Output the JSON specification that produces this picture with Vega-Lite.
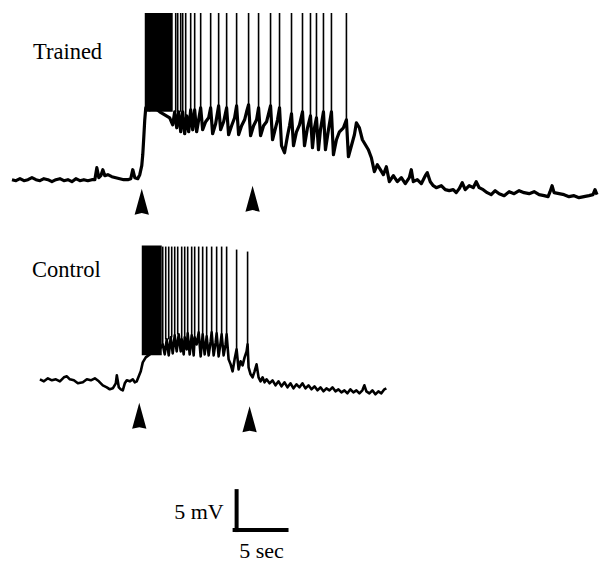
{
  "$schema": "https://vega.github.io/schema/vega-lite/v6.json",
  "width": 599,
  "height": 562,
  "autosize": {"type": "fit", "contains": "padding"},
  "padding": 0,
  "background": "white",
  "config": {"view": {"stroke": null}},
  "datasets": {
    "trace": [
      {"trace":"Trained","t":1.2,"v":-22.5},{"trace":"Trained","t":1.6,"v":-22.625},{"trace":"Trained","t":2.0,"v":-22.375},{"trace":"Trained","t":2.4,"v":-22.625},{"trace":"Trained","t":2.8,"v":-22.5},{"trace":"Trained","t":3.2,"v":-22.25},{"trace":"Trained","t":3.6,"v":-22.5},{"trace":"Trained","t":4.0,"v":-22.625},{"trace":"Trained","t":4.4,"v":-22.375},{"trace":"Trained","t":4.8,"v":-22.5},{"trace":"Trained","t":5.2,"v":-22.75},{"trace":"Trained","t":5.6,"v":-22.5},{"trace":"Trained","t":6.0,"v":-22.375},{"trace":"Trained","t":6.4,"v":-22.625},{"trace":"Trained","t":6.8,"v":-22.5},{"trace":"Trained","t":7.2,"v":-22.75},{"trace":"Trained","t":7.6,"v":-22.375},{"trace":"Trained","t":8.0,"v":-22.625},{"trace":"Trained","t":8.4,"v":-22.5},{"trace":"Trained","t":8.8,"v":-22.625},{"trace":"Trained","t":9.2,"v":-22.5},{"trace":"Trained","t":9.5,"v":-22.5},{"trace":"Trained","t":9.7,"v":-21},{"trace":"Trained","t":9.9,"v":-22.25},{"trace":"Trained","t":10.1,"v":-22},{"trace":"Trained","t":10.3,"v":-21.25},{"trace":"Trained","t":10.5,"v":-22},{"trace":"Trained","t":10.8,"v":-21.875},{"trace":"Trained","t":11.2,"v":-22.125},{"trace":"Trained","t":11.6,"v":-22.25},{"trace":"Trained","t":12.0,"v":-22.375},{"trace":"Trained","t":12.4,"v":-22.5},{"trace":"Trained","t":12.8,"v":-22.5},{"trace":"Trained","t":13.1,"v":-22.375},{"trace":"Trained","t":13.3,"v":-21.25},{"trace":"Trained","t":13.5,"v":-22.25},{"trace":"Trained","t":13.8,"v":-22.375},{"trace":"Trained","t":14.0,"v":-21.875},{"trace":"Trained","t":14.2,"v":-20.75},{"trace":"Trained","t":14.3,"v":-19.375},{"trace":"Trained","t":14.4,"v":-17.25},{"trace":"Trained","t":14.5,"v":-15},{"trace":"Trained","t":14.6,"v":-13.5},{"trace":"Trained","t":15.0,"v":-13.75},{"trace":"Trained","t":15.5,"v":-13.5},{"trace":"Trained","t":16.0,"v":-14},{"trace":"Trained","t":16.5,"v":-14.375},{"trace":"Trained","t":17.0,"v":-14.75},{"trace":"Trained","t":17.3,"v":-15.625},{"trace":"Trained","t":17.5,"v":-14},{"trace":"Trained","t":17.7,"v":-16},{"trace":"Trained","t":17.9,"v":-14},{"trace":"Trained","t":18.1,"v":-16.5},{"trace":"Trained","t":18.3,"v":-14},{"trace":"Trained","t":18.5,"v":-16.75},{"trace":"Trained","t":18.7,"v":-14.5},{"trace":"Trained","t":18.9,"v":-16.5},{"trace":"Trained","t":19.1,"v":-13.75},{"trace":"Trained","t":19.3,"v":-16.25},{"trace":"Trained","t":19.5,"v":-13.75},{"trace":"Trained","t":19.7,"v":-16.5},{"trace":"Trained","t":19.9,"v":-15},{"trace":"Trained","t":20.1,"v":-13.5},{"trace":"Trained","t":20.3,"v":-16.25},{"trace":"Trained","t":20.6,"v":-15.25},{"trace":"Trained","t":20.9,"v":-14.75},{"trace":"Trained","t":21.1,"v":-13.5},{"trace":"Trained","t":21.3,"v":-16.75},{"trace":"Trained","t":21.6,"v":-15.5},{"trace":"Trained","t":21.9,"v":-13.25},{"trace":"Trained","t":22.1,"v":-16.25},{"trace":"Trained","t":22.4,"v":-15.25},{"trace":"Trained","t":22.7,"v":-13.5},{"trace":"Trained","t":22.9,"v":-16.875},{"trace":"Trained","t":23.2,"v":-15.75},{"trace":"Trained","t":23.5,"v":-14.75},{"trace":"Trained","t":23.7,"v":-13.25},{"trace":"Trained","t":23.9,"v":-16.875},{"trace":"Trained","t":24.2,"v":-15.75},{"trace":"Trained","t":24.5,"v":-15},{"trace":"Trained","t":24.7,"v":-14},{"trace":"Trained","t":24.9,"v":-13.125},{"trace":"Trained","t":25.1,"v":-17},{"trace":"Trained","t":25.4,"v":-15.75},{"trace":"Trained","t":25.7,"v":-15},{"trace":"Trained","t":25.9,"v":-13.5},{"trace":"Trained","t":26.1,"v":-17},{"trace":"Trained","t":26.4,"v":-15.75},{"trace":"Trained","t":26.7,"v":-15.25},{"trace":"Trained","t":27.1,"v":-13.25},{"trace":"Trained","t":27.3,"v":-17.5},{"trace":"Trained","t":27.6,"v":-16},{"trace":"Trained","t":27.8,"v":-15},{"trace":"Trained","t":28.0,"v":-13.5},{"trace":"Trained","t":28.2,"v":-18.25},{"trace":"Trained","t":28.5,"v":-19.125},{"trace":"Trained","t":28.8,"v":-17},{"trace":"Trained","t":29.0,"v":-15.75},{"trace":"Trained","t":29.2,"v":-14.25},{"trace":"Trained","t":29.4,"v":-18.25},{"trace":"Trained","t":29.7,"v":-16.5},{"trace":"Trained","t":30.0,"v":-15.625},{"trace":"Trained","t":30.3,"v":-14},{"trace":"Trained","t":30.5,"v":-18.25},{"trace":"Trained","t":30.8,"v":-16},{"trace":"Trained","t":31.1,"v":-14.5},{"trace":"Trained","t":31.3,"v":-18.5},{"trace":"Trained","t":31.5,"v":-16},{"trace":"Trained","t":31.7,"v":-14.75},{"trace":"Trained","t":31.9,"v":-18.75},{"trace":"Trained","t":32.1,"v":-16.25},{"trace":"Trained","t":32.4,"v":-14},{"trace":"Trained","t":32.6,"v":-18.75},{"trace":"Trained","t":32.9,"v":-16.25},{"trace":"Trained","t":33.2,"v":-14},{"trace":"Trained","t":33.4,"v":-19.375},{"trace":"Trained","t":33.7,"v":-17.5},{"trace":"Trained","t":34.0,"v":-16.5},{"trace":"Trained","t":34.4,"v":-16},{"trace":"Trained","t":34.7,"v":-15},{"trace":"Trained","t":34.9,"v":-19.625},{"trace":"Trained","t":35.2,"v":-18.25},{"trace":"Trained","t":35.5,"v":-16.875},{"trace":"Trained","t":35.7,"v":-15.375},{"trace":"Trained","t":36.0,"v":-16},{"trace":"Trained","t":36.3,"v":-17.5},{"trace":"Trained","t":36.6,"v":-18.125},{"trace":"Trained","t":36.9,"v":-18.75},{"trace":"Trained","t":37.2,"v":-19.75},{"trace":"Trained","t":37.5,"v":-21.5},{"trace":"Trained","t":37.8,"v":-20.625},{"trace":"Trained","t":38.1,"v":-21.25},{"trace":"Trained","t":38.4,"v":-21.875},{"trace":"Trained","t":38.7,"v":-20.875},{"trace":"Trained","t":39.0,"v":-22.75},{"trace":"Trained","t":39.4,"v":-22},{"trace":"Trained","t":39.8,"v":-22.75},{"trace":"Trained","t":40.2,"v":-22.25},{"trace":"Trained","t":40.6,"v":-23},{"trace":"Trained","t":41.0,"v":-22.25},{"trace":"Trained","t":41.2,"v":-21.25},{"trace":"Trained","t":41.4,"v":-22.75},{"trace":"Trained","t":41.8,"v":-22.5},{"trace":"Trained","t":42.2,"v":-23},{"trace":"Trained","t":42.6,"v":-22},{"trace":"Trained","t":42.8,"v":-21.625},{"trace":"Trained","t":43.1,"v":-22.75},{"trace":"Trained","t":43.4,"v":-23.25},{"trace":"Trained","t":43.7,"v":-23.5},{"trace":"Trained","t":44.2,"v":-23.25},{"trace":"Trained","t":44.6,"v":-23.75},{"trace":"Trained","t":45.0,"v":-23.875},{"trace":"Trained","t":45.4,"v":-23.75},{"trace":"Trained","t":45.7,"v":-24.125},{"trace":"Trained","t":46.0,"v":-23.625},{"trace":"Trained","t":46.3,"v":-22.875},{"trace":"Trained","t":46.6,"v":-23.75},{"trace":"Trained","t":47.0,"v":-23.25},{"trace":"Trained","t":47.4,"v":-23.5},{"trace":"Trained","t":47.7,"v":-22.75},{"trace":"Trained","t":48.0,"v":-23.5},{"trace":"Trained","t":48.4,"v":-23.75},{"trace":"Trained","t":48.8,"v":-24.125},{"trace":"Trained","t":49.2,"v":-24.375},{"trace":"Trained","t":49.6,"v":-23.875},{"trace":"Trained","t":50.0,"v":-24.25},{"trace":"Trained","t":50.5,"v":-24.5},{"trace":"Trained","t":51.0,"v":-24},{"trace":"Trained","t":51.5,"v":-24.25},{"trace":"Trained","t":52.0,"v":-23.875},{"trace":"Trained","t":52.5,"v":-24.125},{"trace":"Trained","t":53.0,"v":-24.25},{"trace":"Trained","t":53.5,"v":-24},{"trace":"Trained","t":54.0,"v":-24.375},{"trace":"Trained","t":54.5,"v":-24.5},{"trace":"Trained","t":54.9,"v":-24.625},{"trace":"Trained","t":55.1,"v":-24},{"trace":"Trained","t":55.3,"v":-23.25},{"trace":"Trained","t":55.5,"v":-24.125},{"trace":"Trained","t":56.0,"v":-24.25},{"trace":"Trained","t":56.5,"v":-24.375},{"trace":"Trained","t":57.0,"v":-24.625},{"trace":"Trained","t":57.5,"v":-24.5},{"trace":"Trained","t":58.0,"v":-24.75},{"trace":"Trained","t":58.5,"v":-24.625},{"trace":"Trained","t":59.0,"v":-24.5},{"trace":"Trained","t":59.4,"v":-24.375},{"trace":"Trained","t":59.6,"v":-23.75},{"trace":"Trained","t":59.8,"v":-24.375},
      {"trace":"Control","t":4.0,"v":-47.5},{"trace":"Control","t":4.4,"v":-47.75},{"trace":"Control","t":4.8,"v":-47.375},{"trace":"Control","t":5.2,"v":-47.625},{"trace":"Control","t":5.6,"v":-47.5},{"trace":"Control","t":6.0,"v":-47.75},{"trace":"Control","t":6.4,"v":-47.25},{"trace":"Control","t":6.7,"v":-47.125},{"trace":"Control","t":7.0,"v":-47.5},{"trace":"Control","t":7.4,"v":-47.625},{"trace":"Control","t":7.8,"v":-48},{"trace":"Control","t":8.3,"v":-47.875},{"trace":"Control","t":8.7,"v":-47.5},{"trace":"Control","t":9.1,"v":-47.625},{"trace":"Control","t":9.5,"v":-47.375},{"trace":"Control","t":9.9,"v":-47.75},{"trace":"Control","t":10.3,"v":-48.25},{"trace":"Control","t":10.7,"v":-48.5},{"trace":"Control","t":11.0,"v":-48.75},{"trace":"Control","t":11.3,"v":-48.625},{"trace":"Control","t":11.6,"v":-48},{"trace":"Control","t":11.7,"v":-47},{"trace":"Control","t":11.9,"v":-48.5},{"trace":"Control","t":12.1,"v":-48.75},{"trace":"Control","t":12.3,"v":-48.875},{"trace":"Control","t":12.5,"v":-48},{"trace":"Control","t":12.7,"v":-47.625},{"trace":"Control","t":13.0,"v":-47.75},{"trace":"Control","t":13.3,"v":-47.5},{"trace":"Control","t":13.5,"v":-47.875},{"trace":"Control","t":13.7,"v":-47.75},{"trace":"Control","t":13.9,"v":-47.125},{"trace":"Control","t":14.1,"v":-46.5},{"trace":"Control","t":14.3,"v":-45.375},{"trace":"Control","t":14.6,"v":-44.75},{"trace":"Control","t":15.0,"v":-44.375},{"trace":"Control","t":15.5,"v":-44},{"trace":"Control","t":16.0,"v":-43.75},{"trace":"Control","t":16.3,"v":-43.125},{"trace":"Control","t":16.5,"v":-44.375},{"trace":"Control","t":16.7,"v":-42.5},{"trace":"Control","t":16.9,"v":-44.5},{"trace":"Control","t":17.1,"v":-42.25},{"trace":"Control","t":17.3,"v":-44.25},{"trace":"Control","t":17.5,"v":-42},{"trace":"Control","t":17.7,"v":-44},{"trace":"Control","t":17.9,"v":-41.875},{"trace":"Control","t":18.1,"v":-44},{"trace":"Control","t":18.2,"v":-42.5},{"trace":"Control","t":18.4,"v":-44.375},{"trace":"Control","t":18.5,"v":-42.25},{"trace":"Control","t":18.7,"v":-43.75},{"trace":"Control","t":18.8,"v":-41.75},{"trace":"Control","t":19.0,"v":-44.375},{"trace":"Control","t":19.2,"v":-42},{"trace":"Control","t":19.4,"v":-44.5},{"trace":"Control","t":19.5,"v":-42.25},{"trace":"Control","t":19.7,"v":-43.125},{"trace":"Control","t":19.9,"v":-41.625},{"trace":"Control","t":20.1,"v":-44.625},{"trace":"Control","t":20.3,"v":-41.875},{"trace":"Control","t":20.5,"v":-44.375},{"trace":"Control","t":20.7,"v":-42.125},{"trace":"Control","t":20.9,"v":-44.5},{"trace":"Control","t":21.1,"v":-42.75},{"trace":"Control","t":21.2,"v":-41.625},{"trace":"Control","t":21.4,"v":-44.5},{"trace":"Control","t":21.6,"v":-42.875},{"trace":"Control","t":21.7,"v":-41.75},{"trace":"Control","t":21.9,"v":-44.625},{"trace":"Control","t":22.1,"v":-42.875},{"trace":"Control","t":22.2,"v":-41.875},{"trace":"Control","t":22.4,"v":-44.5},{"trace":"Control","t":22.6,"v":-43.125},{"trace":"Control","t":22.7,"v":-41.875},{"trace":"Control","t":22.9,"v":-45},{"trace":"Control","t":23.1,"v":-45.625},{"trace":"Control","t":23.3,"v":-46.5},{"trace":"Control","t":23.5,"v":-45},{"trace":"Control","t":23.7,"v":-43.75},{"trace":"Control","t":23.9,"v":-46.25},{"trace":"Control","t":24.1,"v":-45.25},{"trace":"Control","t":24.3,"v":-45.75},{"trace":"Control","t":24.5,"v":-44.75},{"trace":"Control","t":24.7,"v":-44},{"trace":"Control","t":24.8,"v":-43.125},{"trace":"Control","t":24.9,"v":-46},{"trace":"Control","t":25.1,"v":-46.875},{"trace":"Control","t":25.3,"v":-47.25},{"trace":"Control","t":25.5,"v":-46.5},{"trace":"Control","t":25.7,"v":-45.625},{"trace":"Control","t":25.9,"v":-47.25},{"trace":"Control","t":26.1,"v":-47.75},{"trace":"Control","t":26.3,"v":-47.25},{"trace":"Control","t":26.5,"v":-47.875},{"trace":"Control","t":26.7,"v":-47.5},{"trace":"Control","t":27.0,"v":-48},{"trace":"Control","t":27.3,"v":-47.625},{"trace":"Control","t":27.6,"v":-48.25},{"trace":"Control","t":27.9,"v":-47.75},{"trace":"Control","t":28.2,"v":-48.375},{"trace":"Control","t":28.5,"v":-47.875},{"trace":"Control","t":28.8,"v":-48.5},{"trace":"Control","t":29.1,"v":-48},{"trace":"Control","t":29.4,"v":-48.625},{"trace":"Control","t":29.7,"v":-48.125},{"trace":"Control","t":30.0,"v":-48.5},{"trace":"Control","t":30.3,"v":-48},{"trace":"Control","t":30.6,"v":-48.625},{"trace":"Control","t":30.9,"v":-48.25},{"trace":"Control","t":31.2,"v":-48.75},{"trace":"Control","t":31.5,"v":-48.375},{"trace":"Control","t":31.8,"v":-48.875},{"trace":"Control","t":32.1,"v":-48.5},{"trace":"Control","t":32.4,"v":-49},{"trace":"Control","t":32.7,"v":-48.625},{"trace":"Control","t":33.0,"v":-48.875},{"trace":"Control","t":33.3,"v":-48.5},{"trace":"Control","t":33.6,"v":-49},{"trace":"Control","t":33.9,"v":-48.75},{"trace":"Control","t":34.2,"v":-49.125},{"trace":"Control","t":34.5,"v":-48.875},{"trace":"Control","t":34.8,"v":-49.25},{"trace":"Control","t":35.1,"v":-48.75},{"trace":"Control","t":35.4,"v":-49.125},{"trace":"Control","t":35.7,"v":-48.875},{"trace":"Control","t":36.0,"v":-49.25},{"trace":"Control","t":36.3,"v":-48.875},{"trace":"Control","t":36.5,"v":-48.25},{"trace":"Control","t":36.7,"v":-49},{"trace":"Control","t":37.0,"v":-49.25},{"trace":"Control","t":37.3,"v":-48.875},{"trace":"Control","t":37.6,"v":-49.375},{"trace":"Control","t":37.9,"v":-49},{"trace":"Control","t":38.2,"v":-49.25},{"trace":"Control","t":38.5,"v":-48.75},{"trace":"Control","t":38.7,"v":-48.625}
    ],
    "spikes": [
      {"trace":"Trained","t":17.6,"base":-14,"peak":-1.625},{"trace":"Trained","t":17.8,"base":-14,"peak":-1.625},{"trace":"Trained","t":18.1,"base":-14,"peak":-1.625},{"trace":"Trained","t":18.3,"base":-14,"peak":-1.625},{"trace":"Trained","t":18.6,"base":-14.5,"peak":-1.625},{"trace":"Trained","t":19.1,"base":-13.75,"peak":-1.625},{"trace":"Trained","t":19.5,"base":-13.75,"peak":-1.625},{"trace":"Trained","t":20.1,"base":-13.5,"peak":-1.625},{"trace":"Trained","t":21.1,"base":-13.5,"peak":-1.625},{"trace":"Trained","t":21.9,"base":-13.25,"peak":-1.625},{"trace":"Trained","t":22.7,"base":-13.5,"peak":-1.625},{"trace":"Trained","t":23.7,"base":-13.25,"peak":-1.625},{"trace":"Trained","t":24.9,"base":-13.125,"peak":-1.625},{"trace":"Trained","t":25.9,"base":-13.5,"peak":-1.625},{"trace":"Trained","t":27.1,"base":-13.25,"peak":-1.625},{"trace":"Trained","t":28.0,"base":-13.5,"peak":-1.625},{"trace":"Trained","t":29.2,"base":-14.25,"peak":-1.625},{"trace":"Trained","t":30.3,"base":-14,"peak":-1.625},{"trace":"Trained","t":31.1,"base":-14.5,"peak":-1.625},{"trace":"Trained","t":31.7,"base":-14.75,"peak":-1.625},{"trace":"Trained","t":32.4,"base":-14,"peak":-1.625},{"trace":"Trained","t":33.2,"base":-14,"peak":-1.625},{"trace":"Trained","t":34.7,"base":-15,"peak":-1.625},
      {"trace":"Control","t":16.3,"base":-43.125,"peak":-30.875},{"trace":"Control","t":16.6,"base":-42.5,"peak":-30.875},{"trace":"Control","t":16.9,"base":-42.5,"peak":-30.875},{"trace":"Control","t":17.2,"base":-42.25,"peak":-30.875},{"trace":"Control","t":17.5,"base":-42,"peak":-30.875},{"trace":"Control","t":17.8,"base":-41.875,"peak":-30.875},{"trace":"Control","t":18.2,"base":-42.5,"peak":-30.875},{"trace":"Control","t":18.5,"base":-42.25,"peak":-30.875},{"trace":"Control","t":18.8,"base":-41.75,"peak":-30.875},{"trace":"Control","t":19.2,"base":-42,"peak":-30.875},{"trace":"Control","t":19.5,"base":-42.25,"peak":-30.875},{"trace":"Control","t":19.9,"base":-41.625,"peak":-30.875},{"trace":"Control","t":20.3,"base":-41.875,"peak":-30.875},{"trace":"Control","t":20.7,"base":-42.125,"peak":-30.875},{"trace":"Control","t":21.2,"base":-41.625,"peak":-30.875},{"trace":"Control","t":21.7,"base":-41.75,"peak":-30.875},{"trace":"Control","t":22.2,"base":-41.875,"peak":-30.875},{"trace":"Control","t":22.7,"base":-41.875,"peak":-30.875},{"trace":"Control","t":23.7,"base":-43.75,"peak":-31.25},{"trace":"Control","t":24.8,"base":-43.125,"peak":-31.5}
    ],
    "bursts": [
      {"trace":"Trained","t1":14.5,"t2":17.3,"lo":-14,"hi":-1.625},
      {"trace":"Control","t1":14.2,"t2":16.2,"lo":-44.5,"hi":-30.75}
    ],
    "arrows": [
      {"trace":"Trained","t":14.2,"v":-25.25},{"trace":"Trained","t":25.3,"v":-24.875},
      {"trace":"Control","t":13.95,"v":-52.0625},{"trace":"Control","t":25.0,"v":-52.5}
    ],
    "labels": [
      {"label":"Trained","t":3.3,"v":-7.375},
      {"label":"Control","t":3.2,"v":-34.625}
    ],
    "scalebar": [
      {"part":"mV","t1":23.7,"t2":23.7,"v1":-61.5,"v2":-66.375},
      {"part":"sec","t1":23.5,"t2":28.7,"v1":-66.375,"v2":-66.375}
    ],
    "scaletext": [
      {"label":"5 mV","t":22.4,"v":-65.0,"anchor":"end"},
      {"label":"5 sec","t":26.2,"v":-69.875,"anchor":"middle"}
    ]
  },
  "layer": [
    {
      "data": {"name": "bursts"},
      "mark": {"type": "rect", "color": "black"},
      "encoding": {
        "x": {"field": "t1", "type": "quantitative", "scale": {"domain": [0, 59.9], "nice": false, "zero": false}, "axis": null},
        "x2": {"field": "t2"},
        "y": {"field": "lo", "type": "quantitative", "scale": {"domain": [-70.25, 0], "nice": false, "zero": false}, "axis": null},
        "y2": {"field": "hi"}
      }
    },
    {
      "data": {"name": "spikes"},
      "mark": {"type": "rule", "color": "black", "strokeWidth": 1.6},
      "encoding": {
        "x": {"field": "t", "type": "quantitative", "axis": null},
        "y": {"field": "base", "type": "quantitative", "axis": null},
        "y2": {"field": "peak"}
      }
    },
    {
      "data": {"name": "trace"},
      "transform": [{"filter": "datum.trace === 'Trained'"}],
      "mark": {"type": "line", "color": "black", "strokeWidth": 3.2, "strokeJoin": "round"},
      "encoding": {
        "x": {"field": "t", "type": "quantitative", "axis": null},
        "y": {"field": "v", "type": "quantitative", "axis": null}
      }
    },
    {
      "data": {"name": "trace"},
      "transform": [{"filter": "datum.trace === 'Control'"}],
      "mark": {"type": "line", "color": "black", "strokeWidth": 2.6, "strokeJoin": "round"},
      "encoding": {
        "x": {"field": "t", "type": "quantitative", "axis": null},
        "y": {"field": "v", "type": "quantitative", "axis": null}
      }
    },
    {
      "data": {"name": "arrows"},
      "mark": {"type": "point", "shape": "M0,-1L0.55,1L0,0.88L-0.55,1Z", "size": 676, "filled": true, "color": "black", "opacity": 1},
      "encoding": {
        "x": {"field": "t", "type": "quantitative", "axis": null},
        "y": {"field": "v", "type": "quantitative", "axis": null}
      }
    },
    {
      "data": {"name": "labels"},
      "mark": {"type": "text", "font": "Liberation Serif", "fontSize": 22.5, "align": "left", "baseline": "alphabetic", "color": "black"},
      "encoding": {
        "x": {"field": "t", "type": "quantitative", "axis": null},
        "y": {"field": "v", "type": "quantitative", "axis": null},
        "text": {"field": "label"}
      }
    },
    {
      "data": {"name": "scalebar"},
      "mark": {"type": "rule", "color": "black", "strokeWidth": 4, "strokeCap": "square"},
      "encoding": {
        "x": {"field": "t1", "type": "quantitative", "axis": null},
        "x2": {"field": "t2"},
        "y": {"field": "v1", "type": "quantitative", "axis": null},
        "y2": {"field": "v2"}
      }
    },
    {
      "data": {"name": "scaletext"},
      "transform": [{"filter": "datum.anchor === 'end'"}],
      "mark": {"type": "text", "font": "Liberation Serif", "fontSize": 22, "align": "right", "baseline": "alphabetic", "color": "black"},
      "encoding": {
        "x": {"field": "t", "type": "quantitative", "axis": null},
        "y": {"field": "v", "type": "quantitative", "axis": null},
        "text": {"field": "label"}
      }
    },
    {
      "data": {"name": "scaletext"},
      "transform": [{"filter": "datum.anchor === 'middle'"}],
      "mark": {"type": "text", "font": "Liberation Serif", "fontSize": 22, "align": "center", "baseline": "alphabetic", "color": "black"},
      "encoding": {
        "x": {"field": "t", "type": "quantitative", "axis": null},
        "y": {"field": "v", "type": "quantitative", "axis": null},
        "text": {"field": "label"}
      }
    }
  ]
}
